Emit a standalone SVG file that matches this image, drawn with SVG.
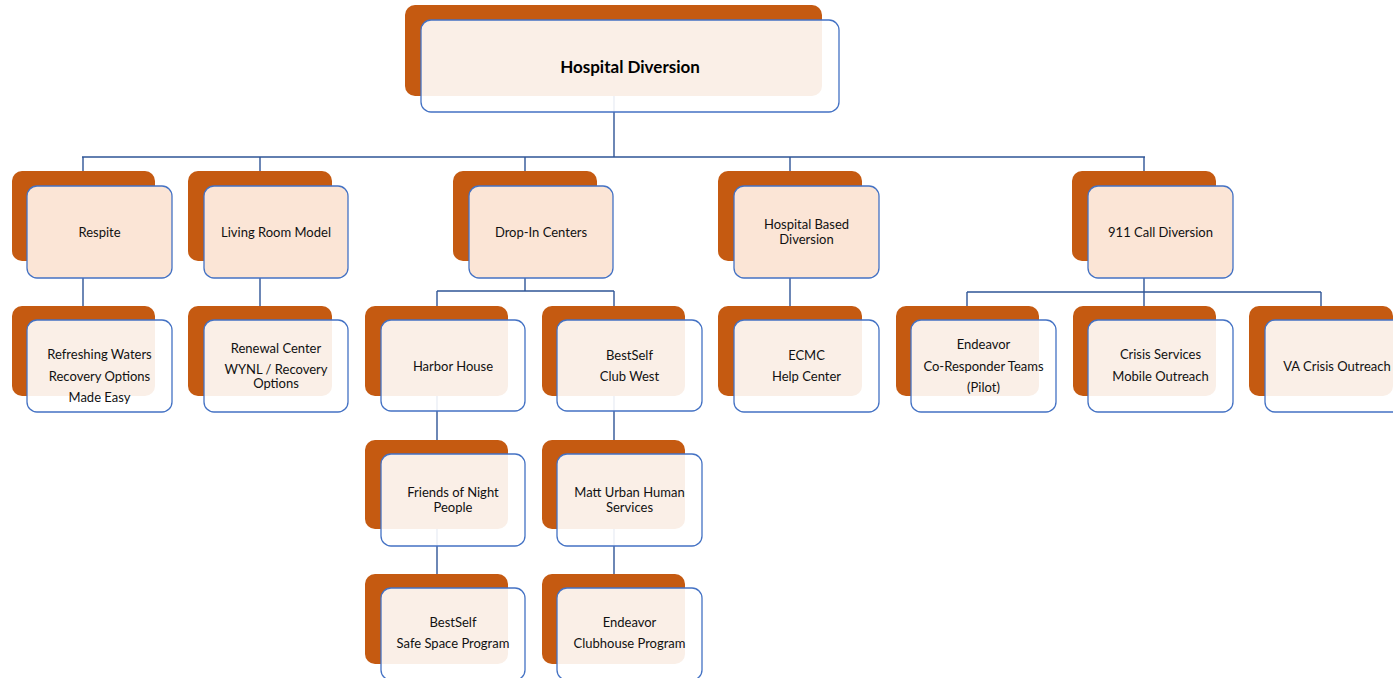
<svg xmlns="http://www.w3.org/2000/svg" width="1393" height="678" viewBox="0 0 1393 678">
<style>
.bk{fill:#C55A11}
.fr{fill:#FFFFFF;fill-opacity:0.9;stroke:#4472C4;stroke-width:1.3}
.fr1{fill:#FBE5D6;stroke:#4472C4;stroke-width:1.3}
.t{font-family:Lato,"Open Sans","Liberation Sans",sans-serif;font-size:13px;fill:#111;text-anchor:middle;dominant-baseline:central}
.tb{font-family:Lato,"Open Sans","Liberation Sans",sans-serif;font-size:17px;font-weight:bold;fill:#000;text-anchor:middle;dominant-baseline:central}
.c{stroke:#2F5597;stroke-width:1.4;fill:none}
</style>
<rect width="1393" height="678" fill="#FFFFFF"/>
<g id="connectors">
<path class="c" d="M614 96V157M82 157H1145M83 157V171M260 157V171M525 157V171M790 157V171M1144 157V171"/>
<path class="c" d="M83 261V306M260 261V306M790 261V306"/>
<path class="c" d="M525 261V291M437 291H614M437 291V306M614 291V306M437 396V440M614 396V440M437 529V574M614 529V574"/>
<path class="c" d="M1144 261V292M967 292H1321M967 292V306M1144 292V306M1321 292V306"/>
</g>
<g id="root"><rect class="bk" x="405" y="5" width="417" height="91" rx="10"/><rect class="fr" x="421" y="20" width="418" height="92" rx="10"/><text class="tb" x="630" y="66">Hospital Diversion</text></g>
<g id="respite"><rect class="bk" x="12" y="171" width="143" height="90" rx="10"/><rect class="fr1" x="27" y="186" width="145" height="92" rx="10"/><text class="t" x="99.5" y="232">Respite</text></g>
<g id="living-room"><rect class="bk" x="188" y="171" width="144" height="90" rx="10"/><rect class="fr1" x="204" y="186" width="144" height="92" rx="10"/><text class="t" x="276" y="232">Living Room Model</text></g>
<g id="drop-in"><rect class="bk" x="453" y="171" width="144" height="90" rx="10"/><rect class="fr1" x="469" y="186" width="144" height="92" rx="10"/><text class="t" x="541" y="232">Drop-In Centers</text></g>
<g id="hospital-based"><rect class="bk" x="718" y="171" width="144" height="90" rx="10"/><rect class="fr1" x="734" y="186" width="145" height="92" rx="10"/><text class="t" x="806.5" y="224">Hospital Based</text><text class="t" x="806.5" y="239">Diversion</text></g>
<g id="call-911"><rect class="bk" x="1072" y="171" width="144" height="90" rx="10"/><rect class="fr1" x="1088" y="186" width="145" height="92" rx="10"/><text class="t" x="1160.5" y="232">911 Call Diversion</text></g>
<g id="refreshing"><rect class="bk" x="12" y="306" width="143" height="90" rx="10"/><rect class="fr" x="27" y="320" width="145" height="92" rx="10"/><text class="t" x="99.5" y="354">Refreshing Waters</text><text class="t" x="99.5" y="376">Recovery Options</text><text class="t" x="99.5" y="397">Made Easy</text></g>
<g id="renewal"><rect class="bk" x="188" y="306" width="144" height="90" rx="10"/><rect class="fr" x="204" y="320" width="144" height="92" rx="10"/><text class="t" x="276" y="348">Renewal Center</text><text class="t" x="276" y="369">WYNL / Recovery</text><text class="t" x="276" y="383">Options</text></g>
<g id="harbor"><rect class="bk" x="365" y="306" width="143" height="90" rx="10"/><rect class="fr" x="381" y="320" width="144" height="91" rx="10"/><text class="t" x="453" y="366">Harbor House</text></g>
<g id="clubwest"><rect class="bk" x="542" y="306" width="143" height="90" rx="10"/><rect class="fr" x="557" y="320" width="145" height="91" rx="10"/><text class="t" x="629.5" y="355">BestSelf</text><text class="t" x="629.5" y="376">Club West</text></g>
<g id="friends"><rect class="bk" x="365" y="440" width="143" height="89" rx="10"/><rect class="fr" x="381" y="454" width="144" height="92" rx="10"/><text class="t" x="453" y="492">Friends of Night</text><text class="t" x="453" y="507">People</text></g>
<g id="matt-urban"><rect class="bk" x="542" y="440" width="143" height="89" rx="10"/><rect class="fr" x="557" y="454" width="145" height="92" rx="10"/><text class="t" x="629.5" y="492">Matt Urban Human</text><text class="t" x="629.5" y="507">Services</text></g>
<g id="safespace"><rect class="bk" x="365" y="574" width="143" height="90" rx="10"/><rect class="fr" x="381" y="588" width="144" height="92" rx="10"/><text class="t" x="453" y="622">BestSelf</text><text class="t" x="453" y="643">Safe Space Program</text></g>
<g id="clubhouse"><rect class="bk" x="542" y="574" width="143" height="90" rx="10"/><rect class="fr" x="557" y="588" width="145" height="92" rx="10"/><text class="t" x="629.5" y="622">Endeavor</text><text class="t" x="629.5" y="643">Clubhouse Program</text></g>
<g id="ecmc"><rect class="bk" x="718" y="306" width="144" height="90" rx="10"/><rect class="fr" x="734" y="320" width="145" height="92" rx="10"/><text class="t" x="806.5" y="355">ECMC</text><text class="t" x="806.5" y="376">Help Center</text></g>
<g id="coresponder"><rect class="bk" x="896" y="306" width="143" height="90" rx="10"/><rect class="fr" x="911" y="320" width="145" height="92" rx="10"/><text class="t" x="983.5" y="344">Endeavor</text><text class="t" x="983.5" y="366">Co-Responder Teams</text><text class="t" x="983.5" y="387">(Pilot)</text></g>
<g id="crisis"><rect class="bk" x="1073" y="306" width="143" height="90" rx="10"/><rect class="fr" x="1088" y="320" width="145" height="92" rx="10"/><text class="t" x="1160.5" y="354">Crisis Services</text><text class="t" x="1160.5" y="376">Mobile Outreach</text></g>
<g id="va"><rect class="bk" x="1249" y="306" width="144" height="90" rx="10"/><rect class="fr" x="1265" y="320" width="145" height="92" rx="10"/><text class="t" x="1337" y="366">VA Crisis Outreach</text></g>
</svg>
